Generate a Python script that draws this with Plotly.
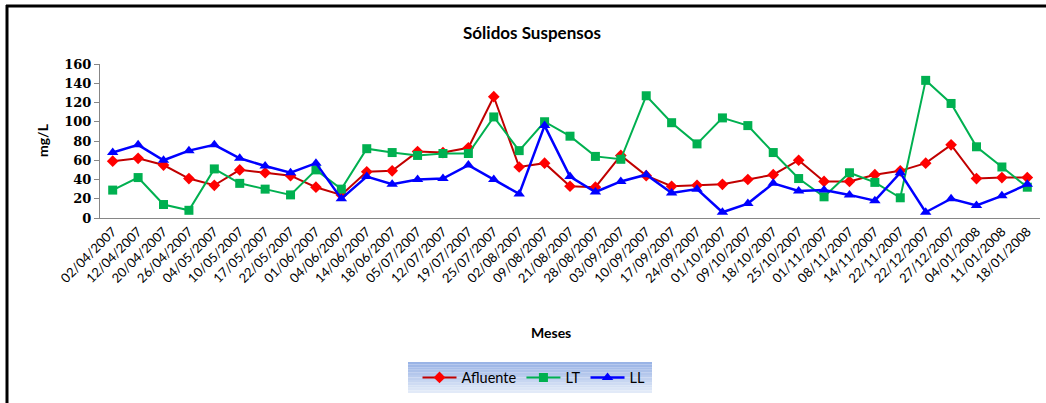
import plotly.graph_objects as go

dates = ["02/04/2007", "12/04/2007", "20/04/2007", "26/04/2007", "04/05/2007", "10/05/2007",
         "17/05/2007", "22/05/2007", "01/06/2007", "04/06/2007", "14/06/2007", "18/06/2007",
         "05/07/2007", "12/07/2007", "19/07/2007", "25/07/2007", "02/08/2007", "09/08/2007",
         "21/08/2007", "28/08/2007", "03/09/2007", "10/09/2007", "17/09/2007", "24/09/2007",
         "01/10/2007", "09/10/2007", "18/10/2007", "25/10/2007", "01/11/2007", "08/11/2007",
         "14/11/2007", "22/11/2007", "22/12/2007", "27/12/2007", "04/01/2008", "11/01/2008",
         "18/01/2008"]

afluente = [59, 62, 55, 41, 34, 50, 47, 44, 32, 24, 48, 49, 69, 68, 73, 126, 53, 57,
            33, 32, 65, 44, 33, 34, 35, 40, 45, 60, 38, 38, 45, 49, 57, 76, 41, 42, 42]
lt = [29, 42, 14, 8, 51, 36, 30, 24, 50, 30, 72, 68, 65, 67, 67, 105, 70, 100,
      85, 64, 61, 127, 99, 77, 104, 96, 68, 41, 22, 47, 37, 21, 143, 119, 74, 53, 32]
ll = [68, 76, 60, 70, 76, 62, 54, 47, 57, 20, 43, 35, 40, 41, 55, 40, 25, 96,
      43, 27, 38, 45, 26, 30, 6, 15, 36, 28, 29, 24, 18, 47, 6, 20, 13, 23, 35]

y_ticks = [0, 20, 40, 60, 80, 100, 120, 140, 160]

W, H = 1046, 403
L, R, T, B = 100, 6, 64, 185
pw, ph = W - L - R, H - T - B

def px(x):
    return (x - L) / pw

def py(y):
    return (H - B - y) / ph

fig = go.Figure()
fig.add_trace(go.Scatter(x=dates, y=afluente, name="Afluente", mode="lines+markers",
                         line=dict(color="#C00000", width=2),
                         marker=dict(symbol="diamond", size=9, color="#FF0000")))
fig.add_trace(go.Scatter(x=dates, y=lt, name="LT", mode="lines+markers",
                         line=dict(color="#00B050", width=2),
                         marker=dict(symbol="square", size=9, color="#00B050")))
fig.add_trace(go.Scatter(x=dates, y=ll, name="LL", mode="lines+markers",
                         line=dict(color="#0000FF", width=2.5),
                         marker=dict(symbol="triangle-up", size=10, color="#0000FF")))

shapes = []
# legend gradient background
lx0, lx1, ly0, ly1 = 408, 652, 362, 393
n = 12
c0 = (154, 180, 230)
c1 = (226, 234, 248)
for i in range(n):
    f = i / (n - 1)
    col = "rgb(%d,%d,%d)" % tuple(int(c0[k] + (c1[k] - c0[k]) * f) for k in range(3))
    ya = ly0 + (ly1 - ly0) * i / n
    yb = ly0 + (ly1 - ly0) * (i + 1) / n
    shapes.append(dict(type="rect", xref="paper", yref="paper",
                       x0=px(lx0), x1=px(lx1), y0=py(ya), y1=py(yb),
                       fillcolor=col, line=dict(width=0), layer="below"))
# frame lines (top and left)
shapes.append(dict(type="line", xref="paper", yref="paper",
                   x0=px(6), x1=px(1046), y0=py(6), y1=py(6),
                   line=dict(color="black", width=3)))
shapes.append(dict(type="line", xref="paper", yref="paper",
                   x0=px(7), x1=px(7), y0=py(5), y1=py(403),
                   line=dict(color="black", width=3)))

fig.update_layout(
    width=W, height=H,
    margin=dict(l=L, r=R, t=T, b=B),
    paper_bgcolor="white", plot_bgcolor="white",
    font=dict(family="Lato, Open Sans, sans-serif", color="black"),
    title=dict(text="<b>Sólidos Suspensos</b>", x=px(532), xref="paper", xanchor="center",
               y=1 - 33 / H, yanchor="middle", font=dict(size=17, family="Lato")),
    xaxis=dict(type="category", categoryorder="array", categoryarray=dates,
               range=[-0.5, len(dates) - 0.5], tickangle=-45, showgrid=False,
               showline=True, linecolor="#868686", linewidth=1, ticks="",
               tickfont=dict(size=13, family="Lato")),
    yaxis=dict(range=[0, 160], tickvals=y_ticks, showgrid=False, zeroline=False,
               showline=True, linecolor="#868686", linewidth=1, ticks="outside",
               ticklen=5, tickcolor="#868686",
               tickfont=dict(size=13, family="DejaVu Serif", weight="bold")),
    showlegend=True,
    legend=dict(orientation="h", x=px(534), xanchor="center", y=py(377.5), yanchor="middle",
                bgcolor="rgba(0,0,0,0)", font=dict(size=14.5, family="Lato"),
                itemwidth=34, tracegroupgap=0),
    shapes=shapes,
    annotations=[
        dict(text="<b>mg/L</b>", xref="paper", yref="paper", x=px(42), y=py(140),
             xanchor="center", yanchor="middle",
             textangle=-90, showarrow=False, font=dict(size=14, family="Lato")),
        dict(text="<b>Meses</b>", xref="paper", yref="paper", x=px(551), y=py(332),
             xanchor="center", yanchor="middle",
             showarrow=False, font=dict(size=14, family="Lato")),
    ],
)

fig.write_html("out.html", config={"displayModeBar": False},
               post_script="document.body.style.margin='0px';")
